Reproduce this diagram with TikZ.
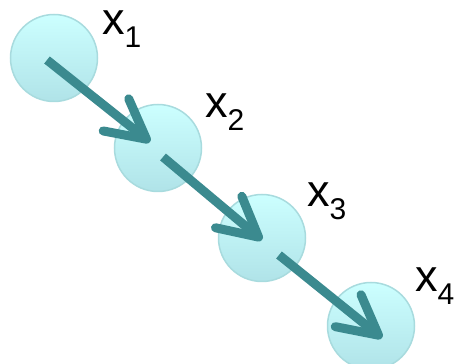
\documentclass[tikz,border=0pt]{standalone}
\usepackage{fontspec}
\setmainfont{Liberation Sans}
\usetikzlibrary{calc, arrows.meta}

\definecolor{ballTop}{rgb}{0.80,1.00,1.00}
\definecolor{ballBottom}{rgb}{0.69,0.89,0.91}
\definecolor{ballEdge}{rgb}{0.66,0.86,0.87}
\definecolor{flowTeal}{rgb}{0.23,0.54,0.56}

\newcommand{\var}[1]{x\raisebox{-13pt}{\fontsize{30}{30}\selectfont #1}}

\begin{document}
\begin{tikzpicture}[
    x=1pt, y=1pt,
    ball/.style={circle, draw=ballEdge, line width=1.5pt, top color=ballTop, bottom color=ballBottom, minimum size=87pt, inner sep=0pt},
    lbl/.style={anchor=base west, inner sep=0pt, font=\fontsize{45}{45}\selectfont},
    flow/.style={draw=flowTeal, line width=9pt, -{Straight Barb[length=39pt, width=41pt, line width=9pt, round]}}
]
\useasboundingbox (0,0) rectangle (456,364);

% Nodes
\node[ball] (c1) at (54,306) {};
\node[ball] (c2) at (158,216) {};
\node[ball] (c3) at (262,126) {};
\node[ball] (c4) at (371,38) {};

% Labels
\node[lbl] (l1) at ($(c1)+(48,23)$) {\var{1}};
\node[lbl] (l2) at ($(c2)+(47,30)$) {\var{2}};
\node[lbl] (l3) at ($(c3)+(45,31)$) {\var{3}};
\node[lbl] (l4) at ($(c4)+(44,34)$) {\var{4}};

% Arrows
\draw[flow] ($(c1)+(-7,-2)$) -- ($(c2)+(-8,6)$);
\draw[flow] ($(c2)+(5,-9)$) -- ($(c3)+(0,-2)$);
\draw[flow] ($(c3)+(17,-17)$) -- ($(c4)+(11,-12)$);

\end{tikzpicture}
\end{document}
